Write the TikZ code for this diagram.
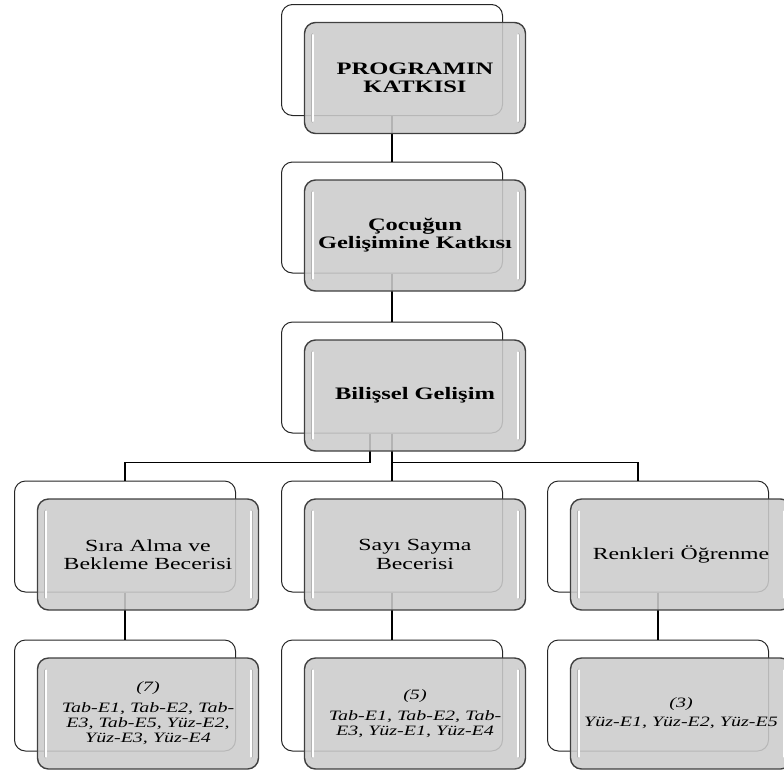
\documentclass[tikz,border=0pt]{standalone}
\usepackage{fontspec}
\setmainfont{Liberation Serif}[FakeStretch=1.4]
\usetikzlibrary{calc}

\tikzset{
  backbox/.style={draw=black!85, line width=1pt, rounded corners=11pt, fill=white,
    minimum width=221pt, minimum height=111pt},
  frontbox/.style={draw=black!75, line width=1.4pt, rounded corners=11pt, fill=black!20,
    fill opacity=0.88, text opacity=1, minimum width=221pt, minimum height=111pt, align=center},
  gloss/.style={draw=black!30, line width=0.5pt, double=white, double distance=2.2pt, line cap=round},
  link/.style={black, line width=1.2pt},
  baslik/.style={font=\fontsize{17.5}{18}\selectfont\bfseries},
  alt/.style={font=\fontsize{17}{18.5}\selectfont},
  kod/.style={font=\fontsize{14.3}{15}\selectfont\itshape},
}

\begin{document}
\begin{tikzpicture}[x=1pt,y=-1pt]
\useasboundingbox (0,0) rectangle (784,772);
% Arka kutular
\node[backbox] (prog-b) at (392,60) {};
\node[backbox] (cocuk-b) at (392,217.5) {};
\node[backbox] (bilis-b) at (392,377.5) {};
\node[backbox] (sira-b) at (125,536.5) {};
\node[backbox] (sayi-b) at (392,536.5) {};
\node[backbox] (renk-b) at (658,536.5) {};
\node[backbox] (siraK-b) at (125,695.5) {};
\node[backbox] (sayiK-b) at (392,695.5) {};
\node[backbox] (renkK-b) at (658,695.5) {};
% Baglantilar
\draw[link] (prog-b.south) -- (cocuk-b.north);
\draw[link] (cocuk-b.south) -- (bilis-b.north);
\draw[link] ([xshift=-22pt]bilis-b.south) |- ([yshift=18pt]sira-b.north) -- (sira-b.north);
\draw[link] (bilis-b.south) -- (sayi-b.north);
\draw[link] (bilis-b.south) |- ([xshift=-20pt,yshift=18pt]renk-b.north) -- ([xshift=-20pt]renk-b.north);
\draw[link] (sira-b.south) -- (siraK-b.north);
\draw[link] (sayi-b.south) -- (sayiK-b.north);
\draw[link] (renk-b.south) -- (renkK-b.north);
% On kutular
\node[frontbox,baslik] (prog) at ($(prog-b)+(23,18)$) {PROGRAMIN\\KATKISI};
\node[frontbox,baslik] (cocuk) at ($(cocuk-b)+(23,18)$) {Çocuğun\\Gelişimine Katkısı};
\node[frontbox,baslik] (bilis) at ($(bilis-b)+(23,18)$) {Bilişsel Gelişim};
\node[frontbox,alt] (sira) at ($(sira-b)+(23,18)$) {Sıra Alma ve\\Bekleme Becerisi};
\node[frontbox,alt] (sayi) at ($(sayi-b)+(23,18)$) {Sayı Sayma\\Becerisi};
\node[frontbox,alt] (renk) at ($(renk-b)+(23,18)$) {Renkleri Öğrenme};
\node[frontbox,kod] (siraK) at ($(siraK-b)+(23,18)$) {(7)\\[6pt]Tab-E1, Tab-E2, Tab-\\E3, Tab-E5, Yüz-E2,\\Yüz-E3, Yüz-E4};
\node[frontbox,kod] (sayiK) at ($(sayiK-b)+(23,18)$) {(5)\\[6pt]Tab-E1, Tab-E2, Tab-\\E3, Yüz-E1, Yüz-E4};
\node[frontbox,kod] (renkK) at ($(renkK-b)+(23,18)$) {(3)\\[4pt]Yüz-E1, Yüz-E2, Yüz-E5};
% Parlama seritleri
\foreach \n in {prog,cocuk,bilis,sira,sayi,renk,siraK,sayiK,renkK} {
  \draw[gloss] ([xshift=9pt,yshift=-13pt]\n.north west) -- ([xshift=9pt,yshift=13pt]\n.south west);
  \draw[gloss] ([xshift=-8pt,yshift=-13pt]\n.north east) -- ([xshift=-8pt,yshift=13pt]\n.south east);
}
\end{tikzpicture}
\end{document}
